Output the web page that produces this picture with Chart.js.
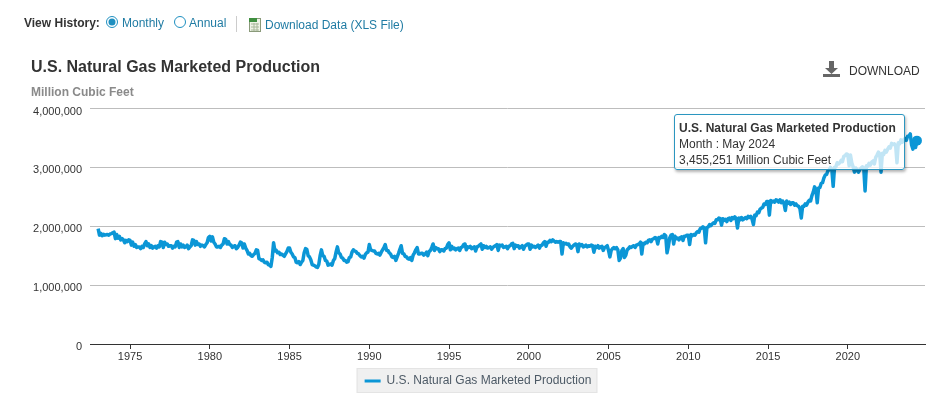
<!DOCTYPE html>
<html>
<head>
<meta charset="utf-8">
<title>U.S. Natural Gas Marketed Production</title>
<script src="https://cdn.jsdelivr.net/npm/chart.js@4"></script>
<style>
  html, body { margin: 0; padding: 0; background: #fff; }
  body { width: 947px; height: 393px; position: relative; overflow: hidden; font-family: Arial, "Liberation Sans", sans-serif; }
  #wrap { position: absolute; left: 0; top: 0; width: 947px; height: 393px; }
  .txt { position: absolute; font-size: 12px; line-height: 14px; white-space: nowrap; }
  .link { color: #1f7ba3; }
  #tip {
    position: absolute; left: 674px; top: 114px; width: 229px; height: 54px;
    border: 1px solid #2b96c0; border-radius: 3px;
    background: rgba(255, 255, 255, 0.75);
    box-shadow: 1px 2px 3px rgba(0, 0, 0, 0.3);
    font-size: 12px; line-height: 16px; color: #333;
  }
  #tip div { position: absolute; left: 4px; white-space: nowrap; }
</style>
</head>
<body>
<div id="wrap"><canvas id="gasChart" width="947" height="393"></canvas></div>

<div class="txt" style="left:24px;top:16px;font-weight:bold;color:#333">View History:</div>
<svg style="position:absolute;left:105px;top:15px" width="14" height="14"><circle cx="7" cy="7" r="5.5" fill="#fff" stroke="#1e8fc0"/><circle cx="7" cy="7" r="3.5" fill="#1e8fc0"/></svg>
<div class="txt link" style="left:122px;top:16px">Monthly</div>
<svg style="position:absolute;left:173px;top:15px" width="14" height="14"><circle cx="7" cy="7" r="5.5" fill="#fff" stroke="#1e8fc0"/></svg>
<div class="txt link" style="left:189px;top:16px">Annual</div>
<div style="position:absolute;left:236px;top:16px;width:1px;height:16px;background:#ccc"></div>
<svg style="position:absolute;left:248px;top:17px" width="14" height="15"><rect x="1.5" y="1.5" width="11" height="13" fill="#eef3e6" stroke="#8a9a7a"/><rect x="1" y="1" width="8" height="4" fill="#3f8f3f"/><path d="M3 7h8M3 10h8M3 13h8M6 6v8M9 6v8" stroke="#a8b89a" fill="none"/></svg>
<div class="txt link" style="left:265px;top:18px">Download Data (XLS File)</div>

<svg style="position:absolute;left:823px;top:60px" width="18" height="18"><path d="M6 1h5v7h4l-6.5 6L2 8h4z" fill="#666"/><rect x="0" y="14" width="17" height="3" fill="#666"/></svg>
<div class="txt" style="left:849px;top:64px;color:#333">DOWNLOAD</div>

<div id="tip">
  <div id="tipTitle" style="top:5px;font-weight:bold"></div>
  <div id="tipMonth" style="top:21px"></div>
  <div id="tipValue" style="top:37px"></div>
</div>

<script>
const seriesName = 'U.S. Natural Gas Marketed Production';
const unitName = 'Million Cubic Feet';
const firstYear = 1973;
const lastLabel = 'May 2024';
const tickYears = [1975, 1980, 1985, 1990, 1995, 2000, 2005, 2010, 2015, 2020];
const tickValues = [0, 1000000, 2000000, 3000000, 4000000];

// monthly, one row per year
const production = [
  1960000,1850000,1880000,1840000,1865000,1850000,1855000,1860000,1850000,1870000,1875000,1890000, // 1973
  1900000,1790000,1860000,1800000,1830000,1770000,1790000,1770000,1720000,1760000,1740000,1770000,
  1760000,1680000,1730000,1660000,1690000,1640000,1650000,1650000,1620000,1660000,1640000,1700000, // 1975
  1740000,1670000,1700000,1640000,1670000,1630000,1650000,1660000,1630000,1670000,1650000,1740000,
  1730000,1640000,1730000,1690000,1700000,1660000,1670000,1670000,1630000,1660000,1650000,1730000,
  1740000,1640000,1700000,1650000,1680000,1640000,1650000,1680000,1620000,1650000,1670000,1770000,
  1760000,1680000,1740000,1690000,1700000,1660000,1680000,1670000,1650000,1690000,1720000,1810000,
  1830000,1750000,1820000,1730000,1700000,1650000,1650000,1660000,1640000,1680000,1700000,1790000, // 1980
  1780000,1700000,1740000,1690000,1680000,1640000,1660000,1670000,1620000,1640000,1680000,1730000,
  1720000,1630000,1700000,1630000,1590000,1530000,1540000,1500000,1490000,1520000,1540000,1600000,
  1590000,1450000,1440000,1420000,1430000,1390000,1380000,1390000,1350000,1340000,1320000,1470000,
  1720000,1580000,1590000,1550000,1560000,1520000,1530000,1510000,1490000,1530000,1570000,1630000,
  1630000,1560000,1530000,1480000,1470000,1390000,1380000,1400000,1350000,1390000,1420000,1550000, // 1985
  1620000,1610000,1500000,1480000,1430000,1350000,1340000,1330000,1310000,1300000,1350000,1500000,
  1600000,1500000,1490000,1420000,1410000,1340000,1350000,1360000,1340000,1420000,1450000,1560000,
  1650000,1550000,1530000,1470000,1460000,1420000,1420000,1390000,1400000,1470000,1480000,1560000,
  1600000,1580000,1570000,1540000,1530000,1500000,1480000,1490000,1460000,1520000,1550000,1560000,
  1690000,1600000,1590000,1580000,1580000,1540000,1530000,1540000,1510000,1560000,1600000,1640000, // 1990
  1690000,1590000,1590000,1550000,1530000,1480000,1470000,1490000,1420000,1480000,1540000,1610000,
  1670000,1540000,1530000,1490000,1480000,1450000,1440000,1470000,1420000,1510000,1550000,1600000,
  1640000,1530000,1530000,1540000,1540000,1510000,1530000,1560000,1500000,1570000,1590000,1640000,
  1700000,1590000,1640000,1620000,1620000,1570000,1600000,1600000,1580000,1620000,1630000,1690000,
  1720000,1600000,1660000,1620000,1630000,1600000,1620000,1630000,1590000,1640000,1650000,1690000, // 1995
  1700000,1600000,1650000,1640000,1660000,1620000,1640000,1650000,1580000,1650000,1660000,1680000,
  1700000,1610000,1670000,1640000,1660000,1630000,1640000,1650000,1610000,1640000,1660000,1670000,
  1690000,1590000,1680000,1670000,1680000,1640000,1650000,1660000,1620000,1660000,1670000,1700000,
  1710000,1620000,1680000,1660000,1670000,1630000,1650000,1670000,1610000,1660000,1680000,1700000,
  1700000,1610000,1680000,1650000,1660000,1640000,1660000,1680000,1630000,1670000,1680000,1720000, // 2000
  1740000,1660000,1730000,1730000,1760000,1740000,1770000,1750000,1730000,1740000,1730000,1740000,
  1740000,1530000,1720000,1700000,1710000,1690000,1700000,1650000,1630000,1660000,1680000,1700000,
  1690000,1570000,1700000,1670000,1690000,1650000,1660000,1680000,1650000,1670000,1660000,1680000,
  1670000,1560000,1660000,1640000,1670000,1630000,1650000,1660000,1590000,1640000,1650000,1670000,
  1590000,1480000,1590000,1620000,1640000,1620000,1640000,1600000,1420000,1460000,1590000,1620000, // 2005
  1470000,1510000,1600000,1620000,1650000,1640000,1660000,1670000,1640000,1680000,1690000,1700000,
  1730000,1530000,1710000,1700000,1730000,1720000,1760000,1770000,1740000,1780000,1790000,1810000,
  1800000,1700000,1810000,1800000,1830000,1810000,1860000,1840000,1550000,1660000,1800000,1850000,
  1860000,1700000,1830000,1790000,1800000,1770000,1810000,1820000,1760000,1830000,1830000,1850000,
  1850000,1690000,1860000,1840000,1860000,1850000,1890000,1910000,1900000,1960000,1970000,1990000, // 2010
  1970000,1720000,1980000,1990000,2030000,2010000,2040000,2060000,2050000,2110000,2110000,2140000,
  2130000,2020000,2130000,2100000,2120000,2080000,2130000,2140000,2100000,2150000,2130000,2160000,
  2130000,1970000,2140000,2110000,2150000,2110000,2130000,2150000,2130000,2170000,2150000,2170000,
  2120000,2030000,2190000,2180000,2240000,2230000,2290000,2310000,2320000,2380000,2370000,2420000,
  2420000,2190000,2440000,2410000,2430000,2410000,2450000,2440000,2410000,2450000,2400000,2430000, // 2015
  2390000,2270000,2430000,2390000,2410000,2370000,2400000,2400000,2360000,2380000,2350000,2340000,
  2300000,2140000,2340000,2340000,2380000,2360000,2410000,2440000,2430000,2520000,2580000,2670000,
  2630000,2400000,2650000,2660000,2730000,2740000,2820000,2870000,2880000,2940000,2960000,3000000,
  2960000,2680000,3000000,3010000,3080000,3060000,3080000,3120000,3100000,3190000,3200000,3230000,
  3220000,3030000,3210000,3080000,3010000,2920000,2990000,2960000,2920000,2960000,2990000,3010000, // 2020
  2990000,2600000,3030000,3020000,3070000,3040000,3090000,3110000,3060000,3170000,3210000,3260000,
  3230000,2920000,3240000,3220000,3290000,3260000,3310000,3350000,3330000,3410000,3390000,3400000,
  3370000,3080000,3420000,3400000,3470000,3430000,3470000,3490000,3460000,3530000,3530000,3570000,
  3380000,3310000,3450000,3340000,3455251 // 2024
];

const tipFormat = new Intl.NumberFormat('en-US');
const lastIndex = production.length - 1;

document.getElementById('tipTitle').textContent = seriesName;
document.getElementById('tipMonth').textContent = 'Month : ' + lastLabel;
document.getElementById('tipValue').textContent = tipFormat.format(production[lastIndex]) + ' ' + unitName;

// grey box behind the legend
const legendBack = {
  id: 'legendBack',
  beforeDraw(chart) {
    const h = chart.legend.legendHitBoxes[0];
    const mid = h.top + h.height / 2;
    const ctx = chart.ctx;
    ctx.save();
    ctx.fillStyle = '#f0f0f0';
    ctx.strokeStyle = '#e4e4e4';
    ctx.fillRect(h.left - 8, mid - 13, h.width + 14, 25);
    ctx.strokeRect(h.left - 7.5, mid - 12.5, h.width + 13, 24);
    ctx.restore();
  },
};

new Chart(document.getElementById('gasChart').getContext('2d'), {
  type: 'line',
  data: {
    datasets: [
      {
        label: seriesName,
        data: production.map((v, i) => ({ x: firstYear + i / 12, y: v })),
        borderColor: '#0b96d6',
        backgroundColor: '#0b96d6',
        borderWidth: 3.5,
        borderJoinStyle: 'round',
        tension: 0,
        pointRadius: (c) => (c.dataIndex === lastIndex ? 5 : 0),
        pointBorderWidth: 0,
      },
    ],
  },
  options: {
    responsive: false,
    animation: false,
    events: [],
    layout: { padding: { left: 31, right: 22, top: 58, bottom: -4 } },
    plugins: {
      title: {
        display: true,
        text: seriesName,
        align: 'start',
        color: '#333',
        font: { family: 'Arial, "Liberation Sans"', size: 16, weight: 'bold' },
        padding: { top: 0, bottom: 8 },
      },
      subtitle: {
        display: true,
        text: unitName,
        align: 'start',
        color: '#8a8a8a',
        font: { family: 'Arial, "Liberation Sans"', size: 12, weight: 'bold' },
        padding: { top: 0, bottom: 9 },
      },
      legend: {
        position: 'bottom',
        labels: {
          usePointStyle: true,
          pointStyle: 'line',
          pointStyleWidth: 16,
          color: '#4d5a66',
          font: { family: 'Arial, "Liberation Sans"', size: 12 },
          padding: 0,
          generateLabels: (chart) =>
            Chart.defaults.plugins.legend.labels.generateLabels(chart).map((it) => ({
              ...it,
              lineWidth: 3,
              strokeStyle: '#0b96d6',
              pointStyle: 'line',
            })),
        },
      },
      tooltip: { enabled: false },
    },
    scales: {
      x: {
        type: 'linear',
        min: 1972.49,
        max: 2024.84,
        afterBuildTicks: (axis) => {
          axis.ticks = tickYears.map((y) => ({ value: y }));
        },
        afterFit: (axis) => {
          axis.height = 31;
        },
        grid: { drawOnChartArea: false, tickLength: 5, color: '#333' },
        border: { color: '#333', width: 1 },
        ticks: {
          autoSkip: false,
          maxRotation: 0,
          padding: 1,
          color: '#333',
          font: { family: 'Arial, "Liberation Sans"', size: 11 },
          callback: (v) => String(v),
        },
      },
      y: {
        min: 0,
        max: 4000000,
        afterBuildTicks: (axis) => {
          axis.ticks = tickValues.map((v) => ({ value: v }));
        },
        afterFit: (axis) => {
          axis.width = 59;
        },
        grid: { color: '#bdbdbd', drawTicks: false },
        border: { display: false },
        ticks: {
          padding: 8,
          labelOffset: 3,
          color: '#333',
          font: { family: 'Arial, "Liberation Sans"', size: 11 },
          callback: (v) => v.toLocaleString('en-US'),
        },
      },
    },
  },
  plugins: [legendBack],
});
</script>
</body>
</html>
